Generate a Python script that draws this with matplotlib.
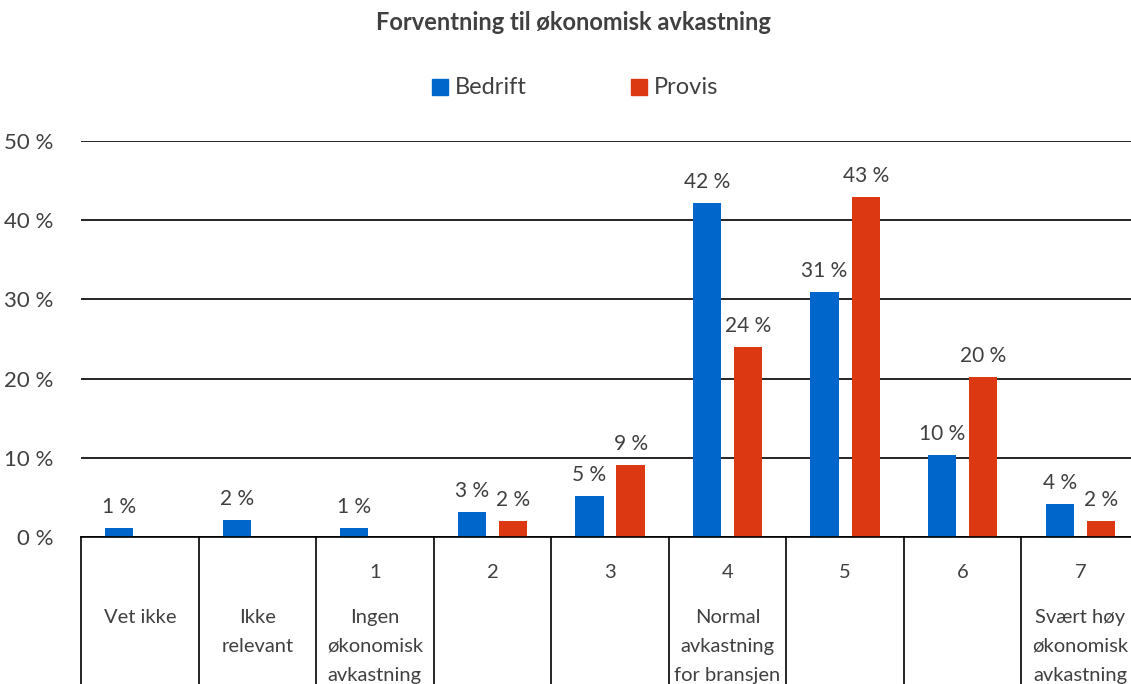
import matplotlib
matplotlib.use("Agg")
import matplotlib.pyplot as plt
from matplotlib.transforms import blended_transform_factory
from matplotlib.patches import Rectangle

plt.rcParams['font.family'] = ['Lato', 'DejaVu Sans']

title = "Forventning til økonomisk avkastning"
series_names = ["Bedrift", "Provis"]
scale_numbers = ["", "", "1", "2", "3", "4", "5", "6", "7"]
category_texts = ["Vet ikke", "Ikke\nrelevant", "Ingen\nøkonomisk\navkastning", "", "",
                  "Normal\navkastning\nfor bransjen", "", "", "Svært høy\nøkonomisk\navkastning"]
bedrift = [1.1, 2.1, 1.1, 3.2, 5.2, 42.2, 30.9, 10.4, 4.2]
provis = [None, None, None, 2.0, 9.1, 24.0, 42.9, 20.2, 2.0]
yticks = [0, 10, 20, 30, 40, 50]
ytick_labels = ["0 %", "10 %", "20 %", "30 %", "40 %", "50 %"]

colors = ["#0066CC", "#DC3912"]
text_color = "#404040"

W, H = 1131, 684
fig = plt.figure(figsize=(W / 100, H / 100), dpi=100)
ax = fig.add_axes([81 / W, 147 / H, 1058 / W, 396 / H])

n = len(bedrift)
xs = list(range(n))
bw = 0.24
off = 0.175
for i in xs:
    for s, (vals, c) in enumerate(zip([bedrift, provis], colors)):
        v = vals[i]
        if v is None:
            continue
        x = i + (-off if s == 0 else off)
        ax.bar(x, v, width=bw, color=c, zorder=3)
        ax.annotate(f"{round(v)} %", (x, v), xytext=(0, 8), textcoords="offset points",
                    ha="center", va="bottom", fontsize=15, color=text_color)

ax.set_xlim(-0.5, n - 0.5)
ax.set_ylim(0, 50)
ax.set_yticks(yticks)
ax.set_yticklabels(ytick_labels, fontsize=16, color=text_color)
ax.tick_params(axis="y", length=0, pad=20)
ax.tick_params(axis="x", length=0, labelbottom=False)
ax.yaxis.grid(True, color="black", linewidth=1.2, zorder=0)
ax.set_axisbelow(True)
for sp in ["top", "right", "left"]:
    ax.spines[sp].set_visible(False)
ax.spines["bottom"].set_color("black")
ax.spines["bottom"].set_linewidth(1.2)
ax.spines["bottom"].set_zorder(4)

tr = blended_transform_factory(ax.transData, fig.transFigure)
for i in range(n + 1):
    ax.plot([i - 0.5, i - 0.5], [(H - 537) / H, -0.05], transform=tr, color="black",
            linewidth=1.2, clip_on=False)
for i in xs:
    if scale_numbers[i]:
        ax.text(i, (H - 572) / H, scale_numbers[i], transform=tr, ha="center", va="center",
                fontsize=14.5, color=text_color)
    if category_texts[i]:
        ax.text(i, (H - 609) / H, category_texts[i], transform=tr, ha="center", va="top",
                fontsize=14.5, color=text_color, linespacing=1.85)

fig.text(573 / W, (H - 22) / H, title, ha="center", va="center", fontsize=17,
         fontweight="bold", color=text_color)

# legend
for (name, c, x0) in zip(series_names, colors, [432, 631]):
    fig.patches.append(Rectangle((x0 / W, (H - 95) / H), 16 / W, 16 / H, color=c,
                                 transform=fig.transFigure, figure=fig))
    fig.text((x0 + 23) / W, (H - 87) / H, name, ha="left", va="center", fontsize=17,
             color=text_color)

fig.savefig("out.png", dpi=100)
